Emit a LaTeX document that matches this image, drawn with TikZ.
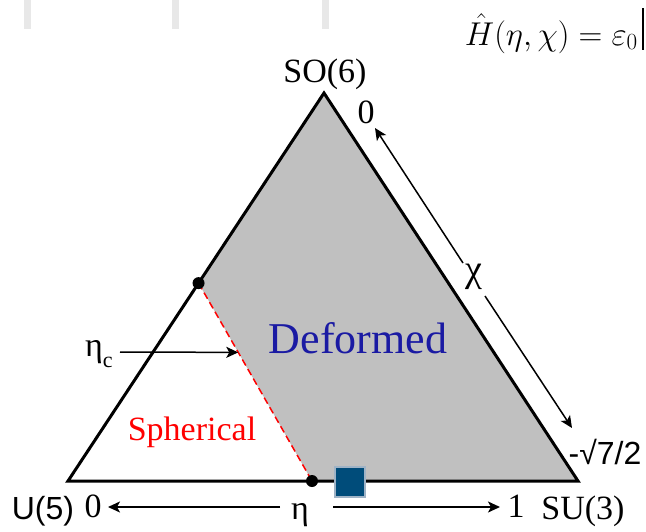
\RequirePackage{fix-cm}
\documentclass[tikz,border=0pt]{standalone}
\usepackage{fontspec}
\setmainfont{Liberation Serif}
\newfontfamily\arialfont{Liberation Sans}
\usetikzlibrary{calc,arrows.meta,positioning}
\definecolor{figGray}{HTML}{C0C0C0}
\definecolor{figBlue}{HTML}{1A1AA3}
\definecolor{figRed}{HTML}{FF0000}
\definecolor{figSquare}{HTML}{004C7A}
\definecolor{figSquareEdge}{HTML}{9FB3C6}
\definecolor{figBar}{HTML}{E8E8E8}

\begin{document}
\begin{tikzpicture}[x=1pt, y=-1pt,
  every node/.style={inner sep=0pt},
  serif/.style={font=\fontsize{34}{36}\selectfont},
  sans/.style={font=\arialfont\fontsize{32}{36}\selectfont},
  arr/.style={-{Stealth[length=12pt, width=11pt, inset=3pt]}, line width=1.5pt},
  dot/.style={circle, fill=black, minimum size=12pt},
]
\useasboundingbox (0,0) rectangle (646,531);

% Tab marks cut off at the top
\foreach \bx in {24,172,322}
  \fill[figBar] (\bx,0) rectangle (\bx+7,29);

% Hamiltonian
\node[anchor=base east, font=\fontsize{33}{36}\selectfont] (ham) at (638,45) {$\hat{H}(\eta,\chi)=\varepsilon_0$};
\draw[line width=2pt] (643,8) -- (643,50);

% Triangle corners
\coordinate (so6v) at (324,93);
\coordinate (u5v) at (68,481);
\coordinate (su3v) at (578,481);

% Critical points
\coordinate (critTop) at ($(u5v)!0.51!(so6v)$);
\coordinate (critBot) at (312,481);

% Deformed region and boundary
\fill[figGray] (critTop) -- (so6v) -- (su3v) -- (critBot) -- cycle;
\draw[figRed, line width=1.5pt, dash pattern=on 7pt off 4pt] (critTop) -- (critBot);
\draw[line width=3pt, line join=miter] (u5v) -- (so6v) -- (su3v) -- cycle;
\node[dot] (ptTop) at (critTop) {};
\node[dot] (ptBot) at (critBot) {};
\node[draw=figSquareEdge, line width=2.5pt, fill=figSquare, minimum size=30pt] (marker) at (350,482) {};

% Labels
\node[serif, anchor=base] (so6) at (325,82) {SO(6)};
\node[sans, anchor=base] (u5) at (43,519) {U(5)};
\node[serif, anchor=base] (su3) at (583,519) {SU(3)};
\node[serif, anchor=base] (zero) at (93,517) {0};
\node[serif, anchor=base] (one) at (516,517) {1};
\node[serif, anchor=base] (eta) at (300,519) {η};
\node[serif, anchor=base] (chiZero) at (366,123) {0};
\node[sans, anchor=base] (chiEnd) at (605,464) {-√7/2};
\node[font=\fontsize{38}{40}\selectfont] (chi) at (474,277) {χ};
\node[font=\fontsize{44}{48}\selectfont, text=figBlue, anchor=base] (deformed) at (358,353) {Deformed};
\node[serif, text=figRed, anchor=base] (spherical) at (192,440) {Spherical};
\node[serif, anchor=base west] (etac) at (85,356) {η\raisebox{-11pt}{\fontsize{22}{22}\selectfont c}};

% Arrow ends
\coordinate (etacTail) at (120,352);
\coordinate (etacTip) at ($(critTop)!0.35!(critBot)$);
\coordinate (etaL) at (280,507);
\coordinate (etaR) at (333,507);
\coordinate (zeroR) at (108,507);
\coordinate (oneL) at (500,507);
\coordinate (chiUp) at (463,263);
\coordinate (chiUpTip) at (375,128);
\coordinate (chiDn) at (485,296);
\coordinate (chiDnTip) at (572,428);

% Arrows
\draw[arr] (etacTail) -- (etacTip);
\draw[arr] (etaL) -- (zeroR);
\draw[arr] (etaR) -- (oneL);
\draw[arr] (chiUp) -- (chiUpTip);
\draw[arr] (chiDn) -- (chiDnTip);

\end{tikzpicture}
\end{document}
